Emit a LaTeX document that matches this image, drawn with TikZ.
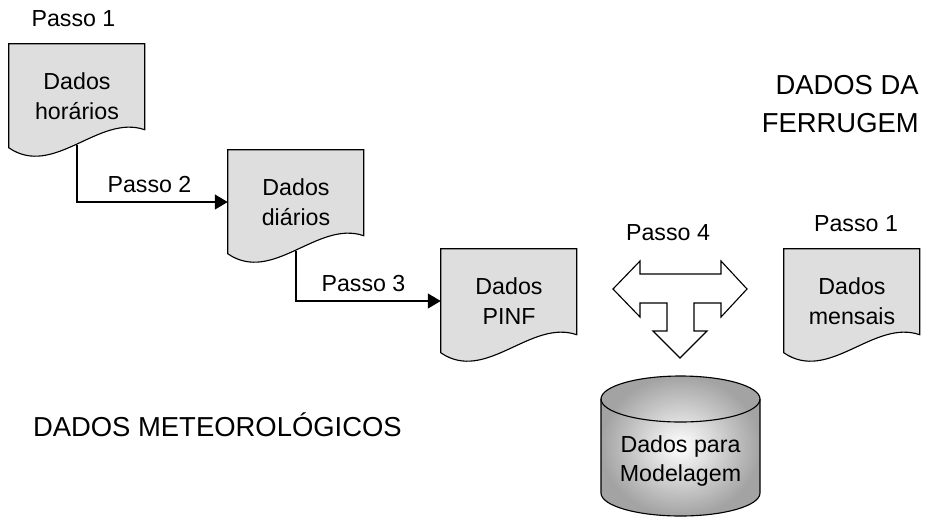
\documentclass[tikz,border=0pt]{standalone}
\usepackage{fontspec}
\setmainfont{Liberation Sans}
\usetikzlibrary{arrows.meta,backgrounds}

\tikzset{
    doc/.style={rectangle, inner sep=0pt, minimum width=3.4cm, minimum height=2.6cm,
        align=center, font=\fontsize{16.5}{21.3}\selectfont},
    passo/.style={inner sep=0pt, font=\fontsize{16.5}{19}\selectfont},
    titulo/.style={inner sep=0pt, align=right, font=\fontsize{19.5}{27}\selectfont},
    link/.style={line width=0.8pt, -{Triangle[length=9.2pt,width=10.7pt]}},
    docline/.style={draw=black, line width=0.8pt, fill=black!13}
}
% document symbol behind a doc node
\newcommand{\docshape}[1]{%
    \begin{scope}[shift={(#1.north west)}]
        \filldraw[docline] (0,0) -- (136,0) -- (136,86)
            .. controls (90,70) and (45,135) .. (0,104) -- cycle;
    \end{scope}}

\begin{document}
\begin{tikzpicture}[x=0.025cm, y=-0.025cm]
    \useasboundingbox (0,0) rectangle (925,522);

    \node[doc] (hor) at (77, 96) {Dados\\horários};
    \node[doc] (dia) at (296, 202) {Dados\\diários};
    \node[doc] (pinf) at (509, 301) {Dados\\PINF};
    \node[doc] (men) at (852, 301) {Dados\\mensais};
    \node[doc, minimum height=0pt] (mod) at (680.5, 461) {Dados para\\Modelagem};

    \node[passo] (p1) at (73.5, 19) {Passo 1};
    \node[passo] (p2) at (149.5, 184.5) {Passo 2};
    \node[passo] (p3) at (363.5, 283.5) {Passo 3};
    \node[passo] (p4) at (668, 233) {Passo 4};
    \node[passo] (p1b) at (856, 224) {Passo 1};

    \node[titulo, anchor=east] (fer) at (919, 104.5) {DADOS DA\\FERRUGEM};
    \node[titulo, anchor=base east] (met) at (402, 436) {DADOS METEOROLÓGICOS};

    \begin{scope}[on background layer]
        \docshape{hor}
        \docshape{dia}
        \docshape{pinf}
        \docshape{men}
        % database
        \shadedraw[inner color=white, outer color=gray!72, draw=black, line width=0.8pt]
            (601,399) -- (601,493) arc[start angle=180, end angle=0, x radius=79.5, y radius=23]
            -- (760,399) arc[start angle=0, end angle=-180, x radius=79.5, y radius=23] -- cycle;
        \draw[line width=0.8pt] (601,399) arc[start angle=180, end angle=0, x radius=79.5, y radius=23];
    \end{scope}

    % T arrow
    \draw[line width=0.8pt, fill=white]
        (613,289) -- (640,261) -- (640,274) -- (721,274) -- (721,261) -- (747,289)
        -- (721,317) -- (721,303) -- (694,303) -- (694,331) -- (707,331) -- (680,358)
        -- (653,331) -- (667,331) -- (667,303) -- (640,303) -- (640,317) -- cycle;

    \draw[link, shorten <=-2pt] (hor.south) |- (dia);
    \draw[link, shorten <=-2pt] (dia.south) |- (pinf);
\end{tikzpicture}
\end{document}
